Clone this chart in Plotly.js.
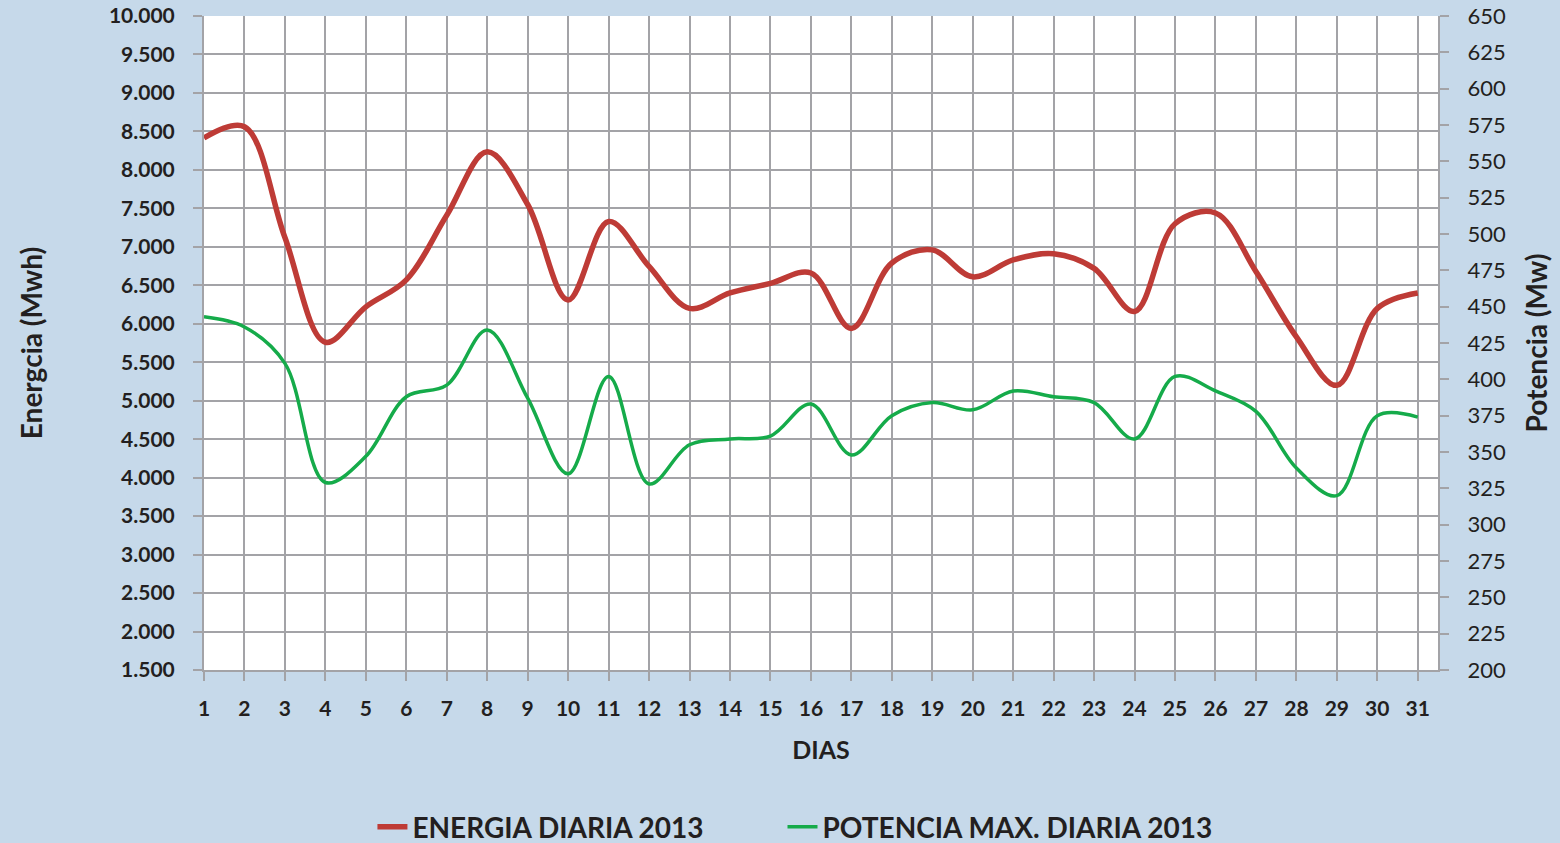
<!DOCTYPE html>
<html>
<head>
<meta charset="utf-8">
<script src="https://cdn.plot.ly/plotly-3.0.1.min.js"></script>
<style>
html,body{margin:0;padding:0;background:#c6d9ea;}
#chart{width:1560px;height:843px;}
</style>
</head>
<body>
<div id="chart"></div>
<script>
var dias = [1,2,3,4,5,6,7,8,9,10,11,12,13,14,15,16,17,18,19,20,21,22,23,24,25,26,27,28,29,30,31];
var energia = [8415,8560,7120,5760,6220,6570,7410,8235,7550,6310,7330,6745,6200,6400,6525,6660,5940,6790,6960,6610,6830,6910,6720,6160,7300,7440,6680,5830,5200,6200,6400];
var potencia = [443,436,411,329,347,388,396,434,387,335,402,328,355,359,361,383,348,375,384,379,392,388,384,359,402,392,378,339,320,375,374];
var nombreEnergia = 'ENERGIA DIARIA 2013';
var nombrePotencia = 'POTENCIA MAX. DIARIA 2013';

var gridCol = '#a3a3a7';
var txtCol = '#231f20';
var fam = 'Lato, "Open Sans", sans-serif';

var traces = [
  {x: dias, y: energia, name: nombreEnergia, type: 'scatter', mode: 'lines',
   line: {color: '#be3b36', width: 5.5, shape: 'spline', smoothing: 1}, yaxis: 'y', legend: 'legend'},
  {x: dias, y: potencia, name: nombrePotencia, type: 'scatter', mode: 'lines',
   line: {color: '#15ab4a', width: 3.5, shape: 'spline', smoothing: 1}, yaxis: 'y2', legend: 'legend2'}
];

var legFont = {family: fam, size: 28, weight: 'bold', color: txtCol};

var layout = {
  width: 1560, height: 843,
  paper_bgcolor: '#c6d9ea',
  plot_bgcolor: '#ffffff',
  separators: ',.',
  margin: {l: 204, r: 122, t: 16, b: 173, pad: 0, autoexpand: false},
  font: {family: fam, color: txtCol},
  showlegend: true,
  legend: {orientation: 'h', x: 0.1365, xanchor: 'left', y: -0.24, yanchor: 'middle',
           font: legFont, bgcolor: 'rgba(0,0,0,0)'},
  legend2: {orientation: 'h', x: 0.4688, xanchor: 'left', y: -0.24, yanchor: 'middle',
           font: legFont, bgcolor: 'rgba(0,0,0,0)'},
  xaxis: {
    range: [1, 31.5], dtick: 1, tick0: 1, type: 'linear',
    showgrid: true, gridcolor: gridCol, gridwidth: 2,
    showline: true, linecolor: gridCol, linewidth: 2,
    ticks: 'outside', ticklen: 9, tickwidth: 2, tickcolor: gridCol,
    ticklabelstandoff: 10,
    tickfont: {family: fam, size: 21, weight: 'bold', color: txtCol},
    zeroline: false,
    title: {text: 'DIAS', font: {family: fam, size: 25, weight: 'bold', color: txtCol}, standoff: 22}
  },
  yaxis: {
    range: [1500, 10000], dtick: 500, tick0: 1500, tickformat: ',.0f',
    showgrid: true, gridcolor: gridCol, gridwidth: 2,
    showline: true, linecolor: gridCol, linewidth: 2,
    ticks: 'outside', ticklen: 9, tickwidth: 2, tickcolor: gridCol,
    ticklabelstandoff: 14,
    tickfont: {family: fam, size: 21, weight: 'bold', color: txtCol},
    zeroline: false,
    title: {text: 'Energcia (Mwh)', font: {family: fam, size: 28, weight: 'bold', color: txtCol}, standoff: 58}
  },
  yaxis2: {
    overlaying: 'y', side: 'right',
    range: [200, 650], dtick: 25, tick0: 200,
    showgrid: false,
    showline: true, linecolor: gridCol, linewidth: 2,
    ticks: 'outside', ticklen: 9, tickwidth: 2, tickcolor: gridCol,
    ticklabelstandoff: 14,
    tickfont: {family: fam, size: 22, color: txtCol},
    zeroline: false,
    title: {text: 'Potencia (Mw)', font: {family: fam, size: 28, weight: 'bold', color: txtCol}, standoff: 22}
  }
};

Plotly.newPlot('chart', traces, layout, {displayModeBar: false, responsive: false});
</script>
</body>
</html>
